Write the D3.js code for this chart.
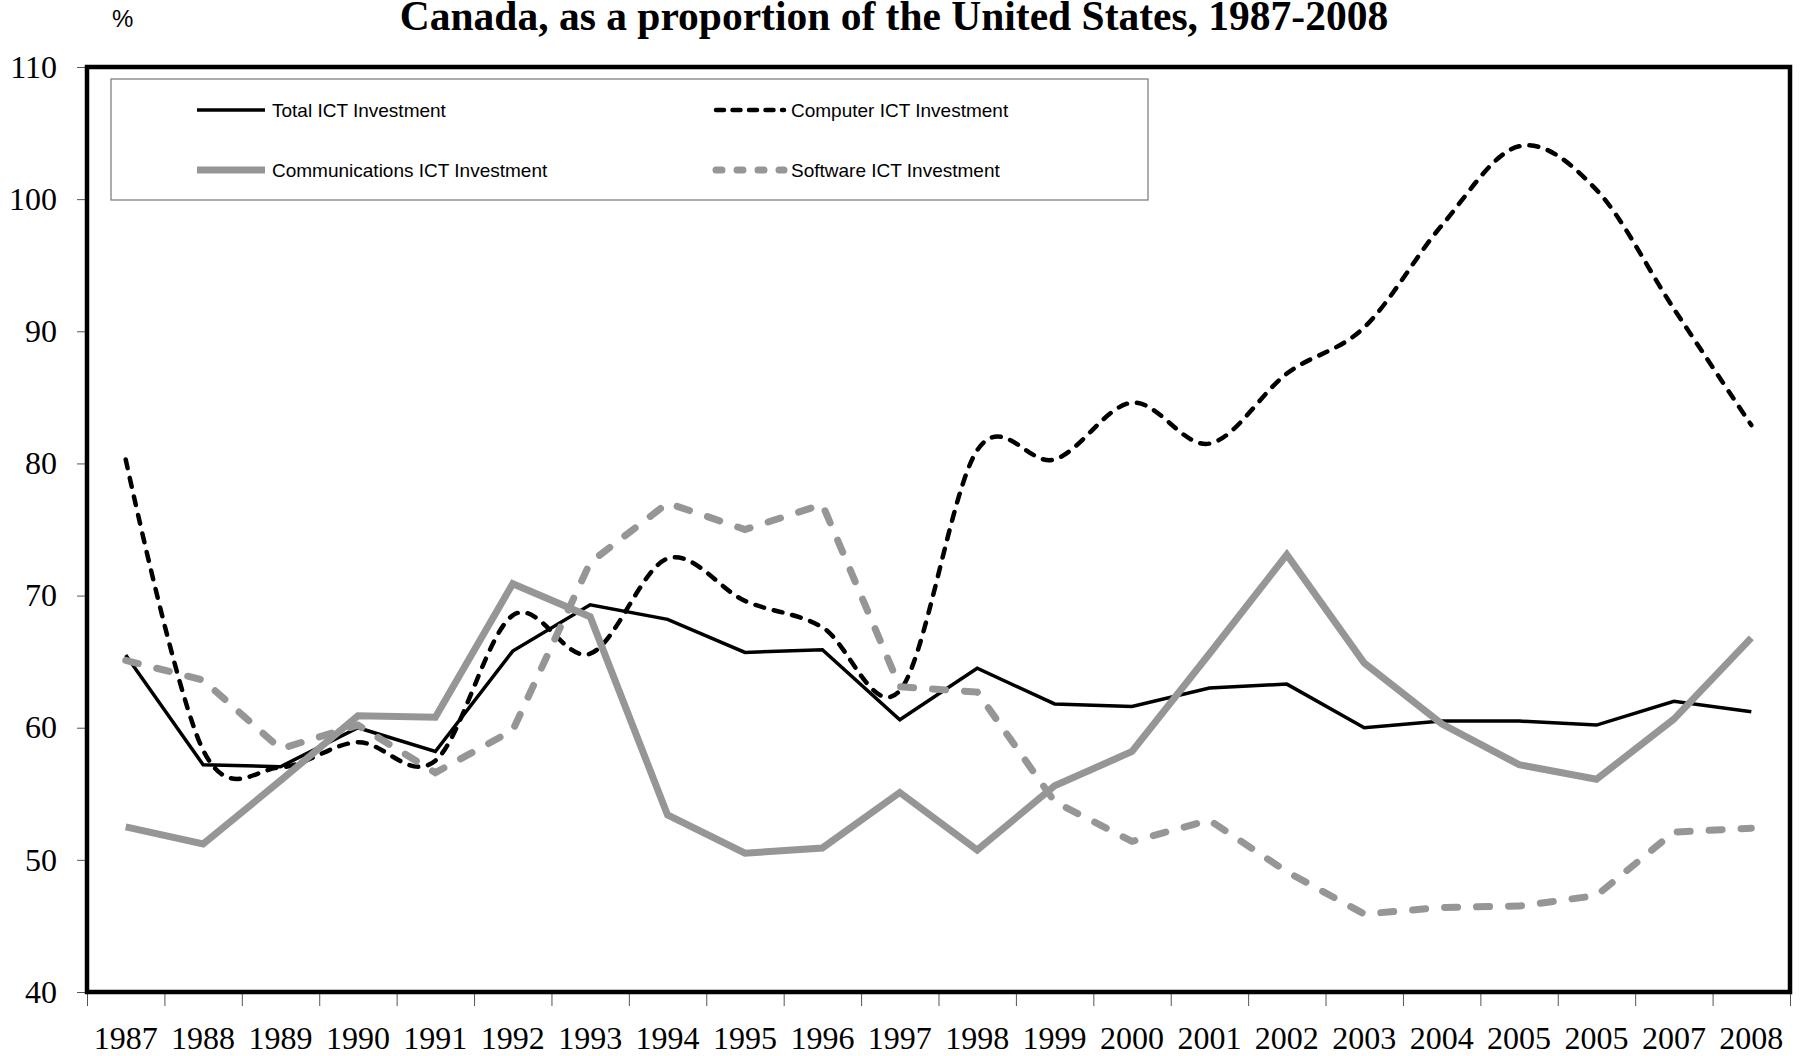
<!DOCTYPE html>
<html>
<head>
<meta charset="utf-8">
<script src="https://cdn.jsdelivr.net/npm/d3@7"></script>
<style>
  body { margin: 0; background: #fff; }
  svg { display: block; }
</style>
</head>
<body>
<svg class="chart" width="1801" height="1056"></svg>
<script>
// chart data
const years = ["1987","1988","1989","1990","1991","1992","1993","1994","1995","1996","1997",
               "1998","1999","2000","2001","2002","2003","2004","2005","2005","2007","2008"]
const totalICT    = [65.5, 57.2, 57.05, 60.0, 58.2, 65.8, 69.3, 68.2, 65.7, 65.9, 60.6,
                     64.5, 61.8, 61.6, 63.0, 63.3, 60.0, 60.5, 60.5, 60.2, 62.0, 61.2]
const computerICT = [80.3, 58.3, 57.0, 58.9, 57.5, 68.5, 65.6, 72.8, 69.6, 67.6, 62.8,
                     81.0, 80.3, 84.6, 81.5, 86.8, 90.3, 98.0, 104.0, 100.7, 91.7, 82.9]
const commICT     = [52.5, 51.2, 56.0, 60.9, 60.8, 70.9, 68.4, 53.4, 50.5, 50.9, 55.1,
                     50.75, 55.6, 58.2, 65.6, 73.1, 64.9, 60.3, 57.2, 56.1, 60.65, 66.8]
const softwareICT = [65.1, 63.6, 58.4, 60.2, 56.6, 59.8, 72.5, 77.0, 75.0, 76.9, 63.1,
                     62.7, 54.4, 51.4, 53.0, 49.1, 45.9, 46.4, 46.5, 47.3, 52.1, 52.4]
const yTicks = [40, 50, 60, 70, 80, 90, 100, 110]

const title = "Canada, as a proportion of the United States, 1987-2008"
const serif = "'Liberation Serif', 'Times New Roman', serif"
const sans = "'Liberation Sans', Arial, sans-serif"

// plot area
const plotLeft = 87, plotRight = 1790, plotTop = 67, plotBottom = 992

const svg = d3.select(".chart")

const x = d3.scaleBand()
  .domain(d3.range(years.length))
  .range([plotLeft, plotRight])
const xEdge = d3.scaleLinear()
  .domain([0, years.length])
  .range([plotLeft, plotRight])
const y = d3.scaleLinear()
  .domain([40, 110])
  .range([plotBottom, plotTop])

// series styles
const series = [
  {name: "Total ICT Investment", values: totalICT, color: "#000", width: 3.5, dash: null, legendDash: null, curve: d3.curveLinear},
  {name: "Computer ICT Investment", values: computerICT, color: "#000", width: 4.5, dash: "9,10", legendDash: "8,8.5", curve: d3.curveCardinal.tension(0)},
  {name: "Communications ICT Investment", values: commICT, color: "#969696", width: 7, dash: null, legendDash: null, curve: d3.curveLinear},
  {name: "Software ICT Investment", values: softwareICT, color: "#969696", width: 7, dash: "13,19", legendDash: "6,15", curve: d3.curveLinear}
]

// title and unit
svg.append("text")
  .attr("x", 894).attr("y", 30)
  .attr("text-anchor", "middle")
  .style("font-family", serif)
  .style("font-weight", "bold")
  .style("font-size", "41.5px")
  .text(title)

svg.append("text")
  .attr("x", 112).attr("y", 27)
  .style("font-family", sans)
  .style("font-size", "24px")
  .text("%")

// y axis
const yAxis = svg.append("g")
  .attr("transform", "translate(" + plotLeft + ",0)")
  .call(d3.axisLeft(y).tickValues(yTicks).tickSize(10).tickPadding(20).tickFormat(d3.format("d")))
yAxis.select(".domain").remove()
yAxis.selectAll("line").attr("stroke", "#555")
yAxis.selectAll("text")
  .style("font-family", serif)
  .style("font-size", "32px")
  .attr("fill", "#000")

// x axis: ticks on the band edges, labels in the middle
const xTicks = svg.append("g")
  .attr("transform", "translate(0," + plotBottom + ")")
  .call(d3.axisBottom(xEdge).tickValues(d3.range(years.length + 1)).tickSize(14).tickFormat(""))
xTicks.select(".domain").remove()
xTicks.selectAll("line").attr("stroke", "#555")

const xLabels = svg.append("g")
  .attr("transform", "translate(0," + plotBottom + ")")
  .call(d3.axisBottom(x).tickSize(0).tickPadding(34).tickFormat(i => years[i]))
xLabels.select(".domain").remove()
xLabels.selectAll("text")
  .style("font-family", serif)
  .style("font-size", "32px")
  .attr("fill", "#000")

// lines
const cx = i => x(i) + x.bandwidth() / 2

series.forEach(s => {
  const line = d3.line()
    .x((d, i) => cx(i))
    .y(d => y(d))
    .curve(s.curve)
  svg.append("path")
    .datum(s.values)
    .attr("d", line)
    .attr("fill", "none")
    .attr("stroke", s.color)
    .attr("stroke-width", s.width)
    .attr("stroke-dasharray", s.dash)
    .attr("stroke-linecap", s.dash ? "round" : "butt")
    .attr("stroke-linejoin", "miter")
})

// frame
svg.append("rect")
  .attr("x", plotLeft).attr("y", plotTop)
  .attr("width", plotRight - plotLeft).attr("height", plotBottom - plotTop)
  .attr("fill", "none")
  .attr("stroke", "#000")
  .attr("stroke-width", 4.5)

// legend
const legend = svg.append("g")
legend.append("rect")
  .attr("x", 111).attr("y", 79)
  .attr("width", 1037).attr("height", 121)
  .attr("fill", "#fff")
  .attr("stroke", "#808080")
  .attr("stroke-width", 1.3)

const legendPos = [[197, 110], [716, 110], [197, 170], [716, 170]]
series.forEach((s, i) => {
  const [lx, ly] = legendPos[i]
  legend.append("line")
    .attr("x1", lx).attr("x2", lx + 68)
    .attr("y1", ly).attr("y2", ly)
    .attr("stroke", s.color)
    .attr("stroke-width", s.width)
    .attr("stroke-dasharray", s.legendDash)
    .attr("stroke-linecap", s.legendDash ? "round" : "butt")
  legend.append("text")
    .attr("x", lx + 75).attr("y", ly + 7)
    .style("font-family", sans)
    .style("font-size", "19px")
    .text(s.name)
})
</script>
</body>
</html>
